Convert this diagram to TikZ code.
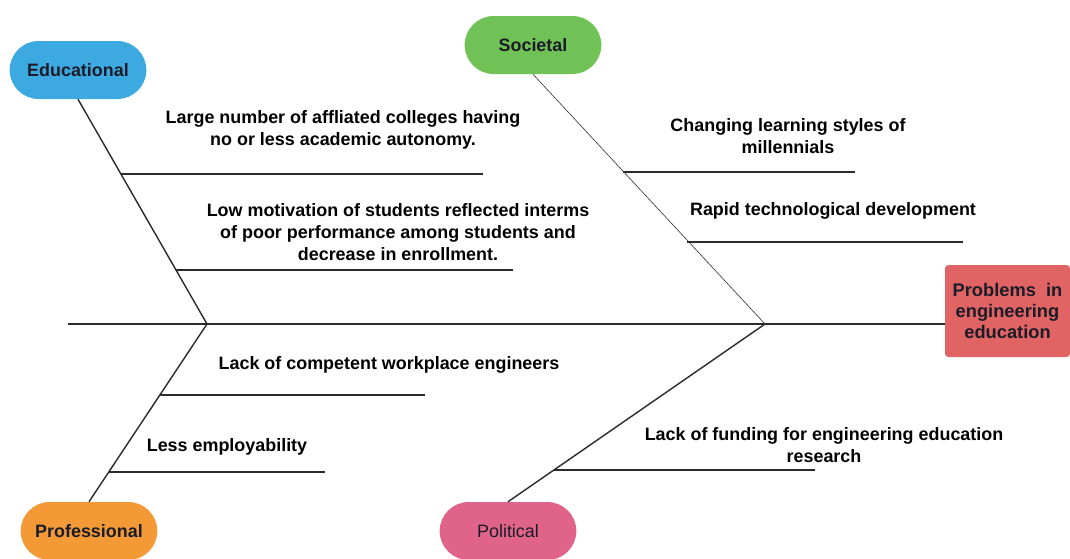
\documentclass[tikz,border=0pt]{standalone}
\usepackage{fontspec}
\setmainfont{Liberation Sans}
\usepackage{xcolor}
\usetikzlibrary{positioning, calc}
\definecolor{edublue}{HTML}{3DA9E1}
\definecolor{socgreen}{HTML}{70C256}
\definecolor{probred}{HTML}{E06464}
\definecolor{proforange}{HTML}{F39A37}
\definecolor{polpink}{HTML}{E0648A}
\definecolor{labelink}{HTML}{1C1C28}
\definecolor{boneink}{HTML}{2B2B2B}
\tikzset{
    pillbox/.style={
        rounded corners=0.87cm,
        minimum width=4.1cm,
        minimum height=1.74cm,
        align=center,
        text=labelink,
        font=\fontsize{15.3}{18}\selectfont\bfseries
    },
    rootbox/.style={
        fill=probred,
        rounded corners=3pt,
        minimum width=3.75cm,
        minimum height=2.76cm,
        align=center,
        text=labelink,
        font=\fontsize{15.6}{18.3}\selectfont\bfseries
    },
    causetext/.style={
        align=center,
        text=black,
        font=\fontsize{15.3}{18.7}\selectfont\bfseries
    },
    spine/.style={draw=boneink, line width=1.5pt},
    bone/.style={draw=boneink, line width=1.2pt},
    thinbone/.style={draw=boneink, line width=0.5pt},
    subbone/.style={draw=boneink, line width=0.9pt}
}
\begin{document}
\begin{tikzpicture}[x=0.03cm, y=-0.03cm]
    \useasboundingbox (0,0) rectangle (1070,558);

    % category heads
    \node[pillbox, fill=edublue] (edu) at (78,70) {Educational};
    \node[pillbox, fill=socgreen] (soc) at (533,45) {Societal};
    \node[pillbox, fill=proforange] (prof) at (89,531) {Professional};
    \node[pillbox, fill=polpink, font=\fontsize{15.3}{18}\selectfont] (pol) at (508,531) {Political};
    \node[rootbox] (root) at (1007.5,311) {Problems\ \ in\\engineering\\education};

    % spine
    \coordinate (tail) at (68,324);
    \coordinate (joinA) at (207,324);
    \coordinate (joinB) at (765,324);
    \draw[spine] (tail) -- (root.west |- tail);

    % main bones
    \draw[bone] (edu.south) -- (joinA);
    \draw[thinbone] (soc.south) -- (joinB);
    \draw[bone] (joinA) -- (prof.north);
    \draw[bone] (joinB) -- (pol.north);

    % sub bones
    \coordinate (eduA) at (121,174);
    \coordinate (eduB) at (176,270);
    \coordinate (socA) at (623,172);
    \coordinate (socB) at (687,242);
    \coordinate (profA) at (160,395);
    \coordinate (profB) at (109,472);
    \coordinate (polA) at (554,470);
    \draw[subbone] (eduA) -- ++(362,0);
    \draw[subbone] (eduB) -- ++(337,0);
    \draw[subbone] (socA) -- ++(232,0);
    \draw[subbone] (socB) -- ++(276,0);
    \draw[subbone] (profA) -- ++(265,0);
    \draw[subbone] (profB) -- ++(216,0);
    \draw[subbone] (polA) -- ++(261,0);

    % causes
    \node[causetext] (cause1) at (343,130) {Large number of affliated colleges having\\no or less academic autonomy.};
    \node[causetext] (cause2) at (398,232) {Low motivation of students reflected interms\\of poor performance among students and\\decrease in enrollment.};
    \node[causetext] (cause3) at (788,136) {Changing learning styles of\\millennials};
    \node[causetext] (cause4) at (833,211) {Rapid technological development};
    \node[causetext] (cause5) at (389,365) {Lack of competent workplace engineers};
    \node[causetext] (cause6) at (227,447) {Less employability};
    \node[causetext] (cause7) at (824,445) {Lack of funding for engineering education\\research};
\end{tikzpicture}
\end{document}
